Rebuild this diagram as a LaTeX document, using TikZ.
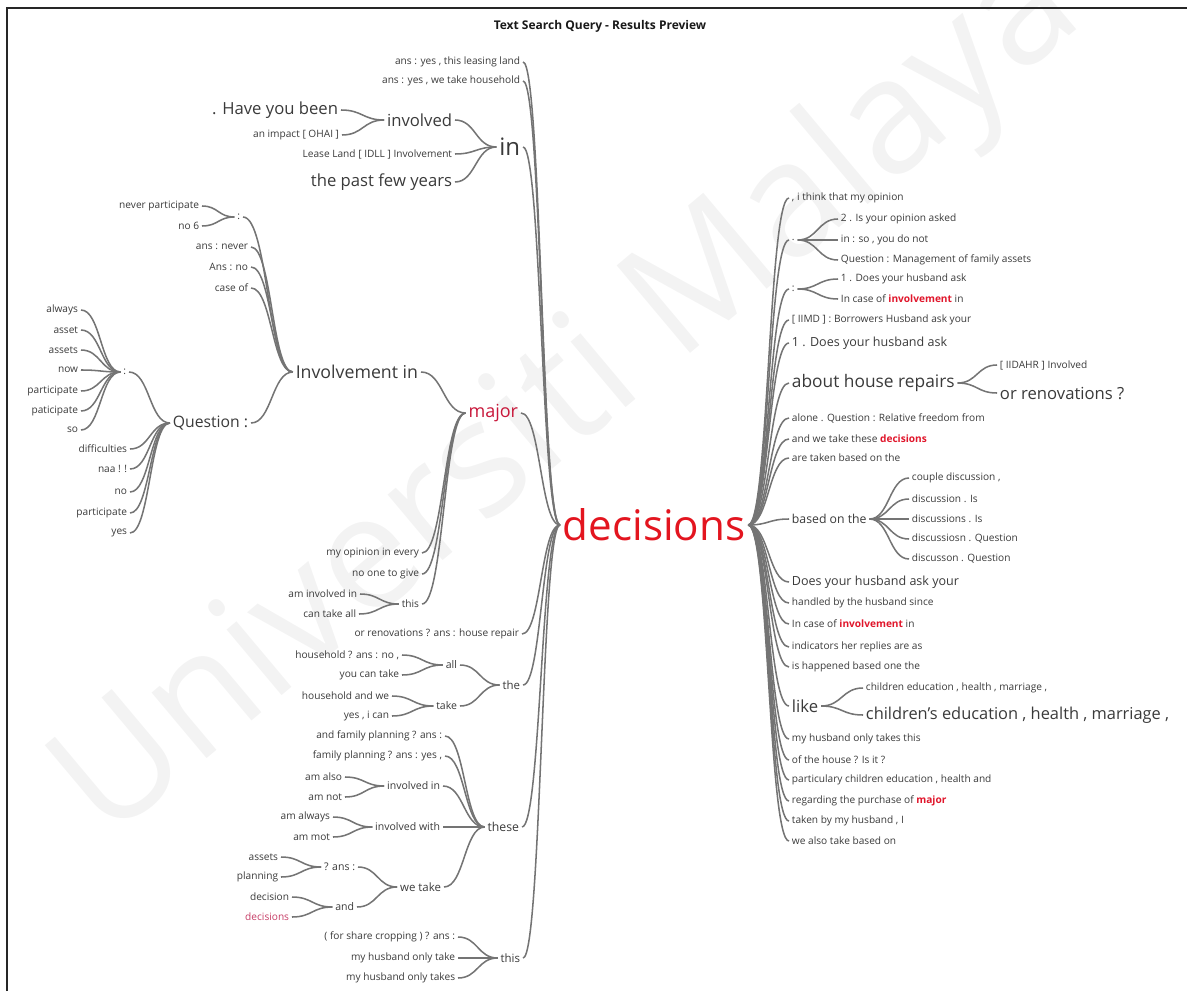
\documentclass[tikz,border=0pt]{standalone}
\usepackage{fontspec}
\setmainfont{Open Sans}
\usetikzlibrary{calc}
\definecolor{txt}{HTML}{3A3A3A}
\definecolor{ln}{HTML}{747474}
\definecolor{rootred}{HTML}{E3151F}
\definecolor{majred}{HTML}{C8173A}
\definecolor{hl}{HTML}{E0162B}
\definecolor{pinkred}{HTML}{C63D66}
\definecolor{wmark}{HTML}{F3F3F3}
\newcommand\fz[1]{\fontsize{#1}{#1}\selectfont}
\newcommand\hlw[1]{\textcolor{hl}{\bfseries #1}}
\begin{document}
\begin{tikzpicture}[x=0.75pt,y=-0.75pt,
  wt/.style={to path={let \p1=(\tikztostart), \p2=(\tikztotarget), \n1={0.5*(\x2-\x1)} in .. controls (\x1+\n1,\y1) and (\x2-\n1,\y2) .. (\tikztotarget)}},
  lk/.style={draw=ln, line width=1.15pt},
  lt/.style={anchor=east, inner xsep=2pt, inner ysep=1pt, text=txt, font=\fz{7.6}},
  rt/.style={lt, anchor=west},
  big/.style={font=\fz{12.5}},
  mid/.style={font=\fz{8.6}},
  sm/.style={font=\fz{7.9}},
  rmid/.style={font=\fz{9.4}}]
\useasboundingbox (0,0) rectangle (1187,991);
% watermark
\node[rotate=40, text=wmark, font=\fz{120}] (wm) at (570,400) {Universiti Malaya};
% frame and title
\draw[line width=1.5pt, black!85] (7,991) -- (7,8) -- (1187,8);
\node[font=\fz{9}\bfseries, text=black!90] (title) at (600,26) {Text Search Query - Results Preview};
% root
\node[anchor=west, inner xsep=2pt, font=\fz{31.6}, text=rootred] (dec) at (560,525) {decisions};
% ---------------- left side
\node[lt] (a1) at (523,62) {ans : yes , this leasing land};
\node[lt] (a2) at (523,81) {ans : yes , we take household};
\node[lt, font=\fz{18}] (nin) at (523,147) {in};
\node[lt, big] (inv) at (455,120) {involved};
\node[lt] (lease) at (455,154) {Lease Land [ IDLL ] Involvement};
\node[lt, big] (past) at (455,182) {the past few years};
\node[lt, big] (have) at (341,110) {. Have you been};
\node[lt] (impact) at (342,135) {an impact [ OHAI ]};
\node[lt, font=\fz{13.5}, text=majred] (major) at (521,413) {major};
\node[lt, font=\fz{13.3}] (invin) at (421,372) {Involvement in};
\node[lt] (myop) at (422,553) {my opinion in every};
\node[lt] (noone) at (422,574) {no one to give};
\node[lt] (this1) at (422,604) {this};
\node[lt] (aminv) at (360,594) {am involved in};
\node[lt] (cantake) at (359,614) {can take all};
\node[lt] (col1) at (243,217) {:};
\node[lt] (ansnever) at (251,247) {ans : never};
\node[lt] (ansno) at (251,267) {Ans : no};
\node[lt] (caseof) at (251,288) {case of};
\node[lt, font=\fz{11.8}] (quest) at (251,423) {Question :};
\node[lt] (neverp) at (202,206) {never participate};
\node[lt] (no6) at (202,226) {no 6};
\node[lt] (col2) at (129,372) {:};
\node[lt] (diff) at (130,449) {difficulties};
\node[lt] (naa) at (130,469) {naa ! !};
\node[lt] (nno) at (130,492) {no};
\node[lt] (part2) at (130,513) {participate};
\node[lt] (nyes) at (130,533) {yes};
\node[lt] (alw) at (81,310) {always};
\node[lt] (as1) at (81,330) {asset};
\node[lt] (as2) at (81,350) {assets};
\node[lt] (now) at (81,370) {now};
\node[lt] (part1) at (81,391) {participate};
\node[lt] (pati) at (81,411) {paticipate};
\node[lt] (nso) at (81,430) {so};
\node[lt] (renov) at (522,634) {or renovations ? ans : house repair};
\node[lt, mid] (nthe) at (523,685) {the};
\node[lt, sm] (nall) at (460,665) {all};
\node[lt] (hh1) at (402,655) {household ? ans : no ,};
\node[lt] (ycan) at (402,675) {you can take};
\node[lt, sm] (ntake) at (460,706) {take};
\node[lt] (hh2) at (392,696) {household and we};
\node[lt] (yesi) at (392,716) {yes , i can};
\node[lt, font=\fz{9.2}] (these) at (522,827) {these};
\node[lt] (afp) at (445,736) {and family planning ? ans :};
\node[lt] (fp) at (445,756) {family planning ? ans : yes ,};
\node[lt, sm] (invin2) at (443,786) {involved in};
\node[lt] (amalso) at (345,777) {am also};
\node[lt] (amnot) at (345,797) {am not};
\node[lt, sm] (invwith) at (443,827) {involved with};
\node[lt] (amalw) at (333,817) {am always};
\node[lt] (ammot) at (333,837) {am mot};
\node[lt, mid] (wetake) at (444,887) {we take};
\node[lt, sm] (qans) at (358,867) {? ans :};
\node[lt] (assets2) at (281,857) {assets};
\node[lt] (plan) at (281,877) {planning};
\node[lt, sm] (nand) at (357,907) {and};
\node[lt] (dec1) at (292,897) {decision};
\node[lt, text=pinkred] (dec2) at (292,917) {decisions};
\node[lt, mid] (this2) at (523,958) {this};
\node[lt] (share) at (458,937) {( for share cropping ) ? ans :};
\node[lt] (mhot) at (458,958) {my husband only take};
\node[lt] (mhots) at (458,978) {my husband only takes};
% ---------------- right side
\node[rt] (r1) at (789,198) {, i think that my opinion};
\node[rt] (rdot) at (789,240) {.};
\node[rt] (rd1) at (838,219) {2 . Is your opinion asked};
\node[rt] (rd2) at (838,240) {in : so , you do not};
\node[rt] (rd3) at (838,260) {Question : Management of family assets};
\node[rt] (rcol) at (789,289) {:};
\node[rt] (rc1) at (838,279) {1 . Does your husband ask};
\node[rt] (rc2) at (838,299) {In case of \hlw{involvement} in};
\node[rt] (r4) at (789,320) {[ IIMD ] : Borrowers Husband ask your};
\node[rt, rmid] (r5) at (789,343) {1 . Does your husband ask};
\node[rt, font=\fz{13}] (r6) at (789,383) {about house repairs};
\node[rt] (r61) at (997,365) {[ IIDAHR ] Involved};
\node[rt, font=\fz{12.5}] (r62) at (997,393) {or renovations ?};
\node[rt] (r7) at (789,418) {alone . Question : Relative freedom from};
\node[rt] (r8) at (789,439) {and we take these \hlw{decisions}};
\node[rt] (r9) at (789,458) {are taken based on the};
\node[rt, font=\fz{9.2}] (r10) at (789,519) {based on the};
\node[rt] (r101) at (909,478) {couple discussion ,};
\node[rt] (r102) at (909,499) {discussion . Is};
\node[rt] (r103) at (909,519) {discussions . Is};
\node[rt] (r104) at (909,539) {discussiosn . Question};
\node[rt] (r105) at (909,559) {discusson . Question};
\node[rt, rmid] (r11) at (789,582) {Does your husband ask your};
\node[rt] (r12) at (789,603) {handled by the husband since};
\node[rt] (r13) at (789,624) {In case of \hlw{involvement} in};
\node[rt] (r14) at (789,647) {indicators her replies are as};
\node[rt] (r15) at (789,667) {is happened based one the};
\node[rt, big] (r16) at (789,706) {like};
\node[rt] (r161) at (863,688) {children education , health , marriage ,};
\node[rt, font=\fz{12.3}] (r162) at (863,715) {children’s education , health , marriage ,};
\node[rt] (r17) at (789,739) {my husband only takes this};
\node[rt] (r18) at (789,760) {of the house ? Is it ?};
\node[rt] (r19) at (789,780) {particulary children education , health and};
\node[rt] (r20) at (789,801) {regarding the purchase of \hlw{major}};
\node[rt] (r21) at (789,821) {taken by my husband , I};
\node[rt] (r22) at (789,841) {we also take based on};
% ---------------- connectors
\foreach \c in {a1,a2,nin,major,renov,nthe,these,this2} \draw[lk] (\c.east) to[wt] (dec.west);
\foreach \c in {inv,lease,past} \draw[lk] (\c.east) to[wt] (nin.west);
\foreach \c in {have,impact} \draw[lk] (\c.east) to[wt] (inv.west);
\foreach \c in {invin,myop,noone,this1} \draw[lk] (\c.east) to[wt] (major.west);
\foreach \c in {aminv,cantake} \draw[lk] (\c.east) to[wt] (this1.west);
\foreach \c in {col1,ansnever,ansno,caseof,quest} \draw[lk] (\c.east) to[wt] (invin.west);
\foreach \c in {neverp,no6} \draw[lk] (\c.east) to[wt] (col1.west);
\foreach \c in {col2,diff,naa,nno,part2,nyes} \draw[lk] (\c.east) to[wt] (quest.west);
\foreach \c in {alw,as1,as2,now,part1,pati,nso} \draw[lk] (\c.east) to[wt] (col2.west);
\foreach \c in {nall,ntake} \draw[lk] (\c.east) to[wt] (nthe.west);
\foreach \c in {hh1,ycan} \draw[lk] (\c.east) to[wt] (nall.west);
\foreach \c in {hh2,yesi} \draw[lk] (\c.east) to[wt] (ntake.west);
\foreach \c in {afp,fp,invin2,invwith,wetake} \draw[lk] (\c.east) to[wt] (these.west);
\foreach \c in {amalso,amnot} \draw[lk] (\c.east) to[wt] (invin2.west);
\foreach \c in {amalw,ammot} \draw[lk] (\c.east) to[wt] (invwith.west);
\foreach \c in {qans,nand} \draw[lk] (\c.east) to[wt] (wetake.west);
\foreach \c in {assets2,plan} \draw[lk] (\c.east) to[wt] (qans.west);
\foreach \c in {dec1,dec2} \draw[lk] (\c.east) to[wt] (nand.west);
\foreach \c in {share,mhot,mhots} \draw[lk] (\c.east) to[wt] (this2.west);
\foreach \c in {r1,rdot,rcol,r4,r5,r6,r7,r8,r9,r10,r11,r12,r13,r14,r15,r16,r17,r18,r19,r20,r21,r22} \draw[lk] (dec.east) to[wt] (\c.west);
\foreach \c in {rd1,rd2,rd3} \draw[lk] (rdot.east) to[wt] (\c.west);
\foreach \c in {rc1,rc2} \draw[lk] (rcol.east) to[wt] (\c.west);
\foreach \c in {r61,r62} \draw[lk] (r6.east) to[wt] (\c.west);
\foreach \c in {r101,r102,r103,r104,r105} \draw[lk] (r10.east) to[wt] (\c.west);
\foreach \c in {r161,r162} \draw[lk] (r16.east) to[wt] (\c.west);
\end{tikzpicture}
\end{document}
